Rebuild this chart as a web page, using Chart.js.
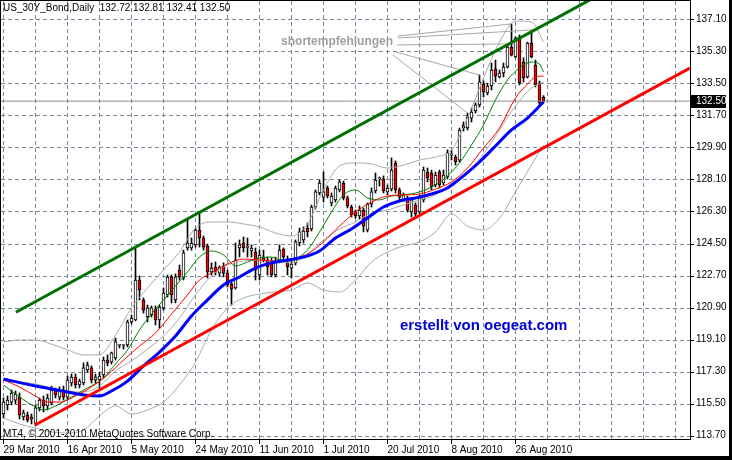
<!DOCTYPE html>
<html>
<head>
<meta charset="utf-8">
<title>US_30Y_Bond,Daily</title>
<script src="https://cdn.jsdelivr.net/npm/chart.js@4.4.1/dist/chart.umd.min.js"></script>
<style>
  html, body { margin: 0; padding: 0; background: #fff; }
</style>
</head>
<body>
<canvas id="chart" width="732" height="460"></canvas>
<script>
// candles, one per trading day starting 29 Mar 2010 (bar 0)
const barOpen = [114.92,115.43,115.59,115.70,115.87,114.75,114.86,114.64,114.41,115.26,
  115.70,115.37,115.54,116.27,115.87,116.27,115.87,116.66,117.00,116.55,
  116.66,117.39,117.51,116.83,116.83,117.11,117.95,117.84,118.07,118.78,
  118.77,118.80,120.09,120.20,122.45,121.33,120.37,120.48,120.82,120.20,
  120.88,121.61,122.62,121.33,123.01,122.56,124.25,124.25,124.42,125.26,
  124.81,124.36,122.90,123.18,122.84,123.18,122.84,122.23,122.00,124.25,
  124.53,124.28,124.08,124.02,122.73,123.74,123.57,123.41,122.73,123.57,
  124.19,123.41,123.12,123.41,124.53,124.70,125.37,125.32,126.55,127.34,
  127.11,127.62,126.78,126.95,127.51,127.90,127.06,126.55,126.27,126.05,
  126.38,125.26,126.72,127.45,128.13,128.13,127.40,127.56,129.02,127.51,
  126.95,127.06,126.27,126.66,126.27,126.95,128.52,128.46,127.79,128.52,
  127.90,128.24,129.47,129.36,129.19,131.16,130.99,131.55,131.95,132.29,
  133.46,132.96,133.35,134.31,133.86,134.08,134.42,135.54,134.98,136.11,
  134.70,133.86,135.77,134.53,133.52,132.72];
const barHigh = [115.82,115.93,116.27,116.21,116.10,115.14,115.03,114.92,115.43,115.82,
  115.93,116.04,116.49,116.38,116.44,116.49,117.05,117.17,117.17,116.88,
  117.79,117.84,117.62,117.17,117.28,118.12,118.24,118.40,119.19,118.80,
  118.80,120.20,120.48,124.30,122.68,121.44,121.04,120.99,120.99,121.04,
  122.00,122.73,122.73,122.79,123.29,124.13,125.82,124.81,125.37,126.21,
  124.92,124.47,123.41,123.46,123.24,123.41,123.01,122.34,124.53,124.70,
  124.87,124.81,124.42,124.25,124.13,124.13,123.74,123.69,123.74,124.42,
  124.25,123.80,123.57,124.70,125.37,125.43,125.65,126.66,127.51,128.07,
  128.52,127.73,127.34,127.73,128.07,128.01,127.17,126.66,126.38,126.61,
  126.50,126.78,127.62,128.46,128.24,128.30,127.79,129.31,129.14,127.62,
  127.34,127.17,127.06,126.78,127.23,128.80,128.74,128.63,128.52,128.63,
  128.63,129.76,129.76,129.47,130.99,131.33,131.83,132.11,132.40,133.97,
  133.63,133.52,134.64,134.81,134.25,134.64,135.71,136.84,136.11,136.22,
  134.93,135.82,136.50,134.81,133.63,132.81];
const barLow = [114.69,115.14,115.43,115.48,114.64,114.58,114.47,114.36,114.25,115.09,
  115.03,115.14,115.43,115.82,115.70,115.70,115.76,116.49,116.38,116.38,
  116.55,117.28,116.66,116.66,116.38,116.94,117.62,117.73,117.95,118.63,
  118.57,118.69,119.98,120.15,121.33,120.59,120.09,120.37,119.92,119.75,
  120.76,121.49,121.16,121.16,122.45,122.45,124.13,124.13,124.30,124.30,
  124.13,122.56,122.73,122.73,122.68,122.62,122.06,121.04,121.94,123.74,
  124.02,123.74,123.74,122.45,122.45,123.46,122.73,122.62,122.62,123.41,
  123.57,122.73,122.56,123.29,124.36,124.53,124.87,125.20,126.44,127.23,
  126.83,127.06,126.61,126.83,127.40,126.95,126.50,125.99,125.93,125.88,
  125.15,125.15,126.55,127.34,127.73,127.34,127.23,127.45,127.34,126.95,
  126.89,126.27,125.99,125.93,126.16,126.83,127.96,127.51,127.68,127.62,
  127.79,128.13,129.19,128.91,129.08,130.82,130.88,131.33,131.83,132.17,
  132.73,132.85,133.13,133.58,133.80,133.86,134.36,135.04,134.93,133.41,
  133.58,133.80,134.93,133.30,132.23,132.41];
const barClose = [115.59,115.70,116.10,116.04,114.86,114.98,114.58,114.75,115.26,115.70,
  115.37,115.82,116.27,115.99,116.27,115.87,116.83,117.00,116.55,116.77,
  117.51,117.67,116.83,117.00,117.05,117.95,117.79,118.35,118.97,118.78,
  118.77,120.09,120.31,122.45,121.89,120.76,120.88,120.88,120.20,120.93,
  121.72,122.62,121.61,122.62,122.62,123.97,124.53,124.53,125.26,124.81,
  124.30,122.90,123.12,122.90,123.18,122.84,122.17,121.94,123.57,124.42,
  124.25,124.30,124.25,123.01,123.85,123.57,123.18,122.73,123.46,124.13,
  123.74,123.18,123.35,124.59,125.15,125.20,125.15,126.55,127.40,127.90,
  127.40,127.17,127.17,127.62,127.96,127.06,126.61,126.10,126.05,126.38,
  125.48,126.72,127.40,128.07,128.13,127.45,127.62,128.63,127.51,127.11,
  127.23,126.38,126.95,126.16,127.06,128.63,128.18,127.68,128.35,127.79,
  128.35,129.59,129.47,129.08,130.88,130.99,131.61,131.89,132.29,133.58,
  133.02,133.35,134.25,133.91,134.08,134.42,135.54,135.09,136.05,133.52,
  133.80,135.77,134.98,133.41,132.40,132.50];

// date labels on the time axis, one every 16 bars
const tickLabels = ['29 Mar 2010', '16 Apr 2010', '5 May 2010', '24 May 2010', '11 Jun 2010',
  '1 Jul 2010', '20 Jul 2010', '8 Aug 2010', '26 Aug 2010'];
const priceTicks = [113.70, 115.50, 117.30, 119.10, 120.90, 122.70, 124.50, 126.30,
  128.10, 129.90, 131.70, 133.50, 135.30, 137.10];

// moving averages at these bars
const greenBars = [0,4,8,10,13,17,21,25,28,31,34,37,40,43,46,49,52,55,58,61,64,67,70,73,76,79,82,85,88,91,94,97,100,104,108,111,114,117,120,123,126,129,132,134,135];
const greenVals = [116.55,115.88,115.31,115.15,115.37,115.88,116.38,116.94,117.73,118.52,
  119.64,120.54,121.33,122.11,122.90,123.74,124.08,123.86,123.24,123.46,
  123.69,123.74,123.52,123.63,124.14,125.15,126.27,127.23,127.51,127.06,
  126.95,127.17,127.23,127.40,127.79,128.30,129.03,130.04,131.16,132.57,
  133.69,134.36,134.70,134.59,134.14];
const redBars = [0,4,8,11,14,18,22,26,30,34,38,42,46,49,52,56,60,64,68,72,76,80,84,88,92,96,100,104,108,112,116,120,124,128,131,133,135];
const redVals = [116.83,116.44,115.93,115.59,115.59,115.93,116.44,117.11,117.95,118.74,
  119.47,120.54,121.61,122.45,122.84,123.35,123.63,123.57,123.52,123.63,
  123.91,124.59,125.48,126.27,126.83,127.17,127.23,127.28,127.56,127.96,
  128.74,129.87,130.99,132.68,133.46,133.86,133.91];
const blueBars = [0,8,16,20,24,27,31,35,39,43,47,51,55,59,63,67,71,75,79,83,87,91,95,99,103,107,111,115,119,123,127,131,135];
const blueVals = [116.89,116.49,116.16,115.99,115.93,116.21,116.77,117.62,118.40,119.30,
  120.43,121.33,122.17,122.62,123.12,123.41,123.57,123.74,124.08,124.81,
  125.32,125.93,126.55,126.89,127.06,127.28,127.62,128.30,129.08,129.98,
  130.88,131.55,132.45];

// bollinger bands
const bandBars = [0,4,8,12,16,20,24,28,32,36,40,44,48,52,56,60,64,68,72,76,80,84,88,92,96,100,104,108,112,116,120,124,128,132,135];
const bandUpper = [118.97,119.08,119.08,118.85,118.52,118.24,118.24,119.36,120.88,122.00,
  123.01,124.02,125.37,125.71,125.71,125.60,125.43,125.09,124.92,125.60,
  127.51,128.86,129.03,128.97,128.74,128.91,129.19,129.36,129.76,131.55,
  133.80,135.82,137.00,136.95,135.82];
const bandMiddle = [116.83,116.72,116.61,116.38,116.16,116.16,116.49,117.34,117.90,118.57,
  119.30,120.32,121.61,122.68,123.29,123.52,123.57,123.46,123.41,123.91,
  124.70,125.32,125.71,126.22,126.38,126.67,126.95,127.23,127.90,128.52,
  129.53,130.88,132.23,133.24,133.58];
const bandLower = [114.70,114.36,114.13,113.91,113.85,114.02,114.81,115.37,114.92,115.15,
  115.59,116.55,117.84,119.64,120.88,121.44,121.66,121.78,121.89,122.28,
  121.89,121.78,122.45,123.46,124.02,124.36,124.59,125.15,126.16,125.48,
  125.26,125.93,127.40,128.91,130.04];

// drawn objects: channel lines [bar, price] pairs
const greenTrend = [[3.1, 120.64], [146.6, 138.19]];
const redTrend = [[7.9, 114.30], [171.6, 134.36]];
// "shortempfehlungen" fan: label end -> candle highs
const fanStart = [[98.6, 136.16], [98.6, 136.05], [98.4, 135.66], [98.1, 135.26], [97.4, 135.09]];
const fanEnd = [[127, 136.84], [132, 136.50], [126, 135.71], [119, 133.97], [116, 131.83]];

const lastClose = 132.50;
const header = 'US_30Y_Bond,Daily  132.72 132.81 132.41 132.50';
const copyright = 'MT4, \u00a9 2001-2010 MetaQuotes Software Corp.';

const FONT = '"Liberation Sans", Arial, sans-serif';
const GRID = '#778899';
const NONE = 'rgba(0,0,0,0)';

function pts(bars, vals) {
  return bars.map((b, i) => ({ x: b, y: vals[i] }));
}

let wicks = [], bodies = [], bodyColors = [];
for (let i = 0; i < barOpen.length; i++) {
  wicks.push({ x: i, y: [barLow[i], barHigh[i]] });
  bodies.push({ x: i, y: [barOpen[i], barClose[i]] });
  bodyColors.push(barClose[i] >= barOpen[i] ? '#ffffff' : '#ff0000');
}

function lineSet(data, color, width, order, smooth) {
  return {
    type: 'line', data: data, borderColor: color, borderWidth: width,
    pointRadius: 0, fill: false, order: order,
    cubicInterpolationMode: smooth ? 'monotone' : 'default', tension: 0
  };
}

let datasets = [
  lineSet(greenTrend.map(p => ({ x: p[0], y: p[1] })), '#007000', 3, 1, false),
  lineSet(redTrend.map(p => ({ x: p[0], y: p[1] })), '#ff0000', 3, 1, false),
  lineSet(pts(blueBars, blueVals), '#0000ff', 3, 3, true),
  lineSet(pts(redBars, redVals), '#ff0000', 1, 4, true),
  lineSet(pts(greenBars, greenVals), '#008000', 1, 5, true),
  lineSet(pts(bandBars, bandUpper), '#aaaaaa', 1, 6, true),
  lineSet(pts(bandBars, bandMiddle), '#aaaaaa', 1, 6, true),
  lineSet(pts(bandBars, bandLower), '#aaaaaa', 1, 6, true),
  lineSet([{ x: -1, y: lastClose }, { x: 172, y: lastClose }], '#8c8c8c', 1, 7, false),
  {
    type: 'bar', data: bodies, backgroundColor: bodyColors, borderColor: '#000',
    borderWidth: 1, borderSkipped: false, barThickness: 3, minBarLength: 1,
    grouped: false, order: 8
  },
  {
    type: 'bar', data: wicks, backgroundColor: '#000', borderWidth: 0,
    barThickness: 1, grouped: false, order: 9
  }
];
for (let k = 0; k < fanStart.length; k++) {
  datasets.push(lineSet([{ x: fanStart[k][0], y: fanStart[k][1] }, { x: fanEnd[k][0], y: fanEnd[k][1] }], '#a8a8a8', 1, 2, false));
}

// dotted MT4 grid, done as small rects so every dash lands on a whole pixel
function dashH(ctx, x1, x2, y) {
  for (let x = x1; x < x2; x += 7) ctx.fillRect(x, y, Math.min(4, x2 - x), 1);
}
function dashV(ctx, x, y1, y2) {
  for (let y = y1; y < y2; y += 7) ctx.fillRect(x, y, 1, Math.min(4, y2 - y));
}

// grid, frame, texts and the price box
const mt4Extras = {
  id: 'mt4Extras',
  beforeDraw(chart) {
    const ctx = chart.ctx;
    ctx.save();
    ctx.fillStyle = '#fff';
    ctx.fillRect(0, 0, chart.width, chart.height);
    ctx.restore();
  },
  beforeDatasetsDraw(chart) {
    const ctx = chart.ctx;
    const a = chart.chartArea;
    const x = chart.scales.x, y = chart.scales.y;
    const L = Math.round(a.left), R = Math.round(a.right), T = Math.round(a.top), B = Math.round(a.bottom);
    ctx.save();
    ctx.fillStyle = GRID;
    priceTicks.forEach(v => dashH(ctx, L, R, Math.round(y.getPixelForValue(v))));
    for (let v = 0; v <= 168; v += 8) dashV(ctx, Math.floor(x.getPixelForValue(v)), T, B);

    // tick marks
    ctx.fillStyle = '#000';
    priceTicks.forEach(v => ctx.fillRect(R + 1, Math.round(y.getPixelForValue(v)), 3, 1));
    for (let v = 0; v < tickLabels.length * 16; v += 16) {
      ctx.fillRect(Math.floor(x.getPixelForValue(v)), B + 1, 1, 4);
    }
    ctx.restore();
  },
  afterDraw(chart) {
    const ctx = chart.ctx;
    const x = chart.scales.x, y = chart.scales.y;
    ctx.save();
    ctx.fillStyle = '#000';
    ctx.fillRect(729, 0, 3, 460);
    ctx.fillRect(0, 456, 732, 4);
    ctx.fillRect(0, 0, 1, 440);
    ctx.fillRect(0, 0, 691, 1);

    ctx.font = '10px ' + FONT;
    ctx.textBaseline = 'alphabetic';
    ctx.fillText(header, 3, 11);
    ctx.fillText(copyright, 3, 437);

    ctx.font = 'bold 12px ' + FONT;
    ctx.fillStyle = '#a0a0a0';
    ctx.fillText('shortempfehlungen', x.getPixelForValue(69.4), y.getPixelForValue(135.66));

    ctx.font = 'bold 15px ' + FONT;
    ctx.fillStyle = '#0000dd';
    ctx.fillText('erstellt von oegeat.com', x.getPixelForValue(99.1), y.getPixelForValue(119.64));

    let py = Math.round(y.getPixelForValue(lastClose));
    ctx.fillStyle = '#000';
    ctx.fillRect(691, py - 6, 35, 13);
    ctx.fillStyle = '#fff';
    ctx.font = '10px ' + FONT;
    ctx.textBaseline = 'middle';
    ctx.fillText(lastClose.toFixed(2), 696, py + 0.5);
    ctx.restore();
  }
};

Chart.defaults.font.family = FONT;
Chart.defaults.font.size = 10;
Chart.defaults.color = '#000';

new Chart(document.getElementById('chart'), {
  type: 'bar',
  data: { datasets: datasets },
  plugins: [mt4Extras],
  options: {
    responsive: false,
    animation: false,
    events: [],
    layout: { padding: { left: 1, top: 1, right: 3, bottom: 4 } },
    plugins: { legend: { display: false }, tooltip: { enabled: false } },
    scales: {
      x: {
        type: 'linear', min: -0.625, max: 171.625, offset: false,
        afterBuildTicks: (scale) => {
          let t = [];
          for (let v = 0; v <= 168; v += 8) t.push({ value: v });
          scale.ticks = t;
        },
        afterFit: (scale) => { scale.height = 17; scale.paddingLeft = 0; scale.paddingRight = 0; },
        ticks: {
          autoSkip: false, maxRotation: 0, minRotation: 0, align: 'start', padding: 1,
          font: { size: 10 },
          callback: (v) => (v % 16 === 0 && v / 16 < tickLabels.length) ? tickLabels[v / 16] : ''
        },
        grid: { color: NONE, tickColor: NONE, tickLength: 4, offset: false },
        border: { display: true, color: '#000', width: 1 }
      },
      y: {
        type: 'linear', position: 'right', min: 113.514, max: 138.128,
        afterBuildTicks: (scale) => { scale.ticks = priceTicks.map(v => ({ value: v })); },
        afterFit: (scale) => { scale.width = 39; scale.paddingTop = 0; scale.paddingBottom = 0; },
        ticks: { padding: 3, font: { size: 10 }, callback: (v) => Number(v).toFixed(2) },
        grid: { color: NONE, tickColor: NONE, tickLength: 3 },
        border: { display: true, color: '#000', width: 1 }
      }
    }
  }
});
</script>
</body>
</html>
